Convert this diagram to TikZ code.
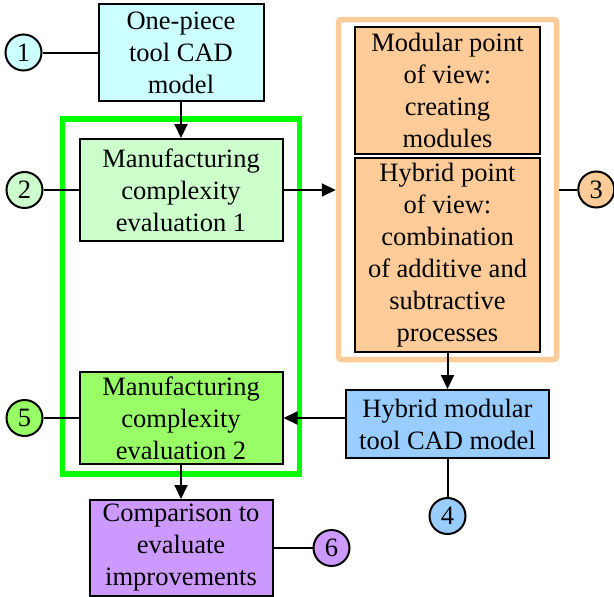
\documentclass[tikz,border=0pt]{standalone}
\usepackage{fontspec}
\setmainfont{Liberation Serif}
\usetikzlibrary{positioning,fit,arrows.meta}
\definecolor{cadcyan}{HTML}{CCFFFF}
\definecolor{evalpale}{HTML}{CCFFCC}
\definecolor{evalgreen}{HTML}{99FF66}
\definecolor{viewpeach}{HTML}{FFCC99}
\definecolor{hybridblue}{HTML}{99CCFF}
\definecolor{comparelilac}{HTML}{CC99FF}
\definecolor{framegreen}{HTML}{00FF00}

\begin{document}
\begin{tikzpicture}[x=1pt, y=1pt, line width=2pt, node distance=37pt,
        main/.style = {draw, align=center, inner sep=0pt, font=\fontsize{26.5}{32}\selectfont},
        num/.style = {draw, circle, minimum size=36pt, inner sep=0pt, font=\fontsize{26.5}{32}\selectfont},
        >={Triangle[length=14pt, width=13pt]}]
    \useasboundingbox (0,0) rectangle (614,-597);
        \node[main, fill=cadcyan, minimum width=165pt, minimum height=97pt] (b1) at (181,-52.5) {One-piece\\tool CAD\\model};
        \node[main, fill=evalpale, minimum width=203pt, minimum height=102pt] (b2) [below=36pt of b1] {Manufacturing\\complexity\\evaluation 1};
        \node[main, fill=evalgreen, minimum width=203pt, minimum height=92pt] (b5) [below=129pt of b2] {Manufacturing\\complexity\\evaluation 2};
        \node[main, fill=comparelilac, minimum width=183pt, minimum height=96pt] (b6) [below=34pt of b5] {Comparison to\\evaluate\\improvements};
        \node[main, fill=viewpeach, minimum width=185pt, minimum height=127pt] (b3a) at (447.5,-90.5) {Modular point\\of view:\\creating\\modules};
        \node[main, fill=viewpeach, minimum width=185pt, minimum height=194pt] (b3b) [below=2pt of b3a] {Hybrid point\\of view:\\combination\\of additive and\\subtractive\\processes};
        \node[draw=viewpeach, line width=5.5pt, rounded corners=3pt, inner xsep=15.5pt, inner ysep=6.5pt, fit=(b3a) (b3b)] (view) {};
        \node[main, fill=hybridblue, minimum width=203pt, minimum height=68pt] (b4) [below=36pt of b3b] {Hybrid modular\\tool CAD model};
        \node[num, fill=cadcyan] (c1) [left=55pt of b1] {1};
        \node[num, fill=evalpale] (c2) [left=35pt of b2] {2};
        \node[num, fill=viewpeach] (c3) [right=18pt of view] {3};
        \node[num, fill=hybridblue] (c4) [below=38pt of b4] {4};
        \node[num, fill=evalgreen] (c5) [left=35pt of b5] {5};
        \node[num, fill=comparelilac] (c6) [right=39pt of b6] {6};
        % green frame round both evaluations
        \draw[framegreen, line width=5.5pt] ([shift={(-16pt,19pt)}]b2.north west) rectangle ([shift={(16pt,-9pt)}]b5.south east);
        \draw[->] (b1) -- (b2);
        \draw[->] (b2.east) -- (b2.east -| view.west);
        \draw[->] (b3b) -- (b4);
        \draw[->] (b4.west |- b5.east) -- (b5.east);
        \draw[->] (b5) -- (b6);
        \draw (c1) -- (b1);
        \draw (c2) -- (b2);
        \draw (c3) -- (view);
        \draw (c4) -- (b4);
        \draw (c5) -- (b5);
        \draw (c6) -- (b6);
    \end{tikzpicture}
\end{document}
